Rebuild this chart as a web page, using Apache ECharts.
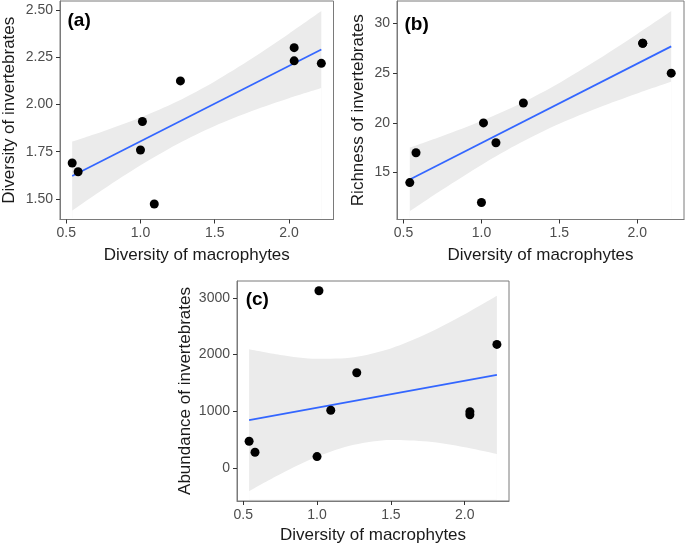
<!DOCTYPE html>
<html>
<head>
<meta charset="utf-8">
<script src="https://cdn.jsdelivr.net/npm/echarts@6/dist/echarts.min.js"></script>
<style>
html,body{margin:0;padding:0;background:#fff;}
#chart{width:685px;height:545px;}
</style>
</head>
<body>
<div id="chart"></div>
<script>
// ---- data ----
const macroDiv = [0.54, 0.58, 1.00, 1.013, 1.093, 1.269, 2.035, 2.035, 2.218];
const invDiv   = [1.690, 1.644, 1.759, 1.910, 1.473, 2.125, 2.301, 2.231, 2.218];
const invRich  = [14, 17, 12, 20, 18, 22, 28, 28, 25];
const invAbund = [474, 281, 204, 3123, 1019, 1680, 995, 940, 2179];

const fitX  = [0.54, 2.218];
const fitA  = [1.621, 2.291];
const fitB  = [14.31, 27.69];
const fitC  = [845, 1643];

const bandX = [0.54, 0.75, 1.0, 1.25, 1.5, 1.75, 2.0, 2.218];
const bandALow  = [1.438, 1.551, 1.678, 1.791, 1.886, 1.965, 2.033, 2.087];
const bandAHigh = [1.803, 1.858, 1.931, 2.017, 2.122, 2.243, 2.375, 2.495];
const bandBLow  = [11.13, 13.31, 15.78, 18.00, 19.91, 21.53, 22.96, 24.13];
const bandBHigh = [17.50, 18.67, 20.18, 21.94, 24.02, 26.39, 28.94, 31.25];
const bandCLow  = [-403, -105, 200, 411, 496, 468, 368, 250];
const bandCHigh = [2093, 1994, 1927, 1954, 2107, 2373, 2710, 3036];

const xTicks  = [0.5, 1.0, 1.5, 2.0];
const aYTicks = [1.50, 1.75, 2.00, 2.25, 2.50];
const bYTicks = [15, 20, 25, 30];
const cYTicks = [0, 1000, 2000, 3000];

const xTitle = 'Diversity of macrophytes';
const yTitles = ['Diversity of invertebrates', 'Richness of invertebrates', 'Abundance of invertebrates'];
const panelLabels = ['(a)', '(b)', '(c)'];

// ---- styling ----
const FONT = 'Liberation Sans, Arial, Helvetica, sans-serif';
const BORDER = '#7a7a7a';
const TICK = '#333333';
const LABEL = '#4d4d4d';
const RIBBON = '#ebebeb';
const LINE = '#3366ff';

const grids = [
  {left: 59, top: 1, width: 274.5, height: 218.5},
  {left: 397, top: 1, width: 287, height: 218.5},
  {left: 237, top: 281, width: 272, height: 220}
];
const yRanges = [[1.391, 2.548], [10.29, 32.25], [-578, 3295]];
const yTickSets = [aYTicks, bYTicks, cYTicks];
const yFormat = [v => v.toFixed(2), v => String(Math.round(v)), v => String(Math.round(v))];
const yNameGaps = [42, 30, 43];
const xNameGaps = [27, 27, 26];
const ySeries = [invDiv, invRich, invAbund];
const fits = [fitA, fitB, fitC];
const bandsLow = [bandALow, bandBLow, bandCLow];
const bandsHigh = [bandAHigh, bandBHigh, bandCHigh];
const labelPos = [[67.5, 21.7], [404.5, 25.3], [245.7, 301]];

const option = {
  animation: false,
  backgroundColor: '#fff',
  grid: grids.map(g => Object.assign({show: true, borderColor: BORDER, borderWidth: 1, backgroundColor: 'transparent'}, g)),
  xAxis: [],
  yAxis: [],
  series: [],
  graphic: []
};

for (let i = 0; i < 3; i++) {
  option.xAxis.push({
    type: 'value', gridIndex: i, min: 0.458, max: 2.300, z: 10,
    name: xTitle, nameLocation: 'middle', nameGap: xNameGaps[i],
    nameTextStyle: {fontSize: 17, color: '#1a1a1a', fontFamily: FONT},
    splitLine: {show: false},
    axisLine: {show: true, onZero: false, lineStyle: {color: BORDER, width: 1}},
    axisTick: {show: true, length: 4, lineStyle: {color: TICK}, customValues: xTicks},
    axisLabel: {fontSize: 14, color: LABEL, fontFamily: FONT, margin: 7, customValues: xTicks,
                formatter: v => v.toFixed(1)}
  });
  option.yAxis.push({
    type: 'value', gridIndex: i, min: yRanges[i][0], max: yRanges[i][1], z: 10,
    name: yTitles[i], nameLocation: 'middle', nameGap: yNameGaps[i],
    nameTextStyle: {fontSize: 17, color: '#1a1a1a', fontFamily: FONT},
    splitLine: {show: false},
    axisLine: {show: true, onZero: false, lineStyle: {color: BORDER, width: 1}},
    axisTick: {show: true, length: 4, lineStyle: {color: TICK}, customValues: yTickSets[i]},
    axisLabel: {fontSize: 14, color: LABEL, fontFamily: FONT, margin: 7, customValues: yTickSets[i],
                formatter: yFormat[i]}
  });
  const low = bandsLow[i], high = bandsHigh[i];
  // fill base sits just above the panel floor so the frame line stays visible
  const base = yRanges[i][0] + (yRanges[i][1] - yRanges[i][0]) * 0.007;
  // upper edge of the confidence band: grey fill down to the base
  option.series.push({
    type: 'line', xAxisIndex: i, yAxisIndex: i,
    data: bandX.map((x, k) => [x, high[k]]),
    symbol: 'none', smooth: 0.3,
    lineStyle: {width: 0, opacity: 0},
    areaStyle: {color: RIBBON, opacity: 1, origin: base}, z: 1, silent: true
  });
  // lower edge of the band: white fill down to the base, leaving the band grey
  option.series.push({
    type: 'line', xAxisIndex: i, yAxisIndex: i,
    data: bandX.map((x, k) => [x, low[k]]),
    symbol: 'none', smooth: 0.3,
    lineStyle: {width: 0, opacity: 0},
    areaStyle: {color: '#ffffff', opacity: 1, origin: base}, z: 2, silent: true
  });
  option.series.push({
    type: 'line', xAxisIndex: i, yAxisIndex: i,
    data: fitX.map((x, k) => [x, fits[i][k]]),
    symbol: 'none', lineStyle: {color: LINE, width: 1.7}, z: 3, silent: true
  });
  option.series.push({
    type: 'scatter', xAxisIndex: i, yAxisIndex: i,
    data: macroDiv.map((x, k) => [x, ySeries[i][k]]),
    symbol: 'circle', symbolSize: 9, itemStyle: {color: '#000', opacity: 1}, z: 4
  });
  option.graphic.push({
    type: 'text', left: labelPos[i][0], top: labelPos[i][1] - 10.5,
    style: {text: panelLabels[i], fontSize: 19, fontWeight: 'bold', fontFamily: FONT, fill: '#000'},
    z: 10
  });
}

const chart = echarts.init(document.getElementById('chart'), null, {renderer: 'canvas'});
chart.setOption(option);
</script>
</body>
</html>
